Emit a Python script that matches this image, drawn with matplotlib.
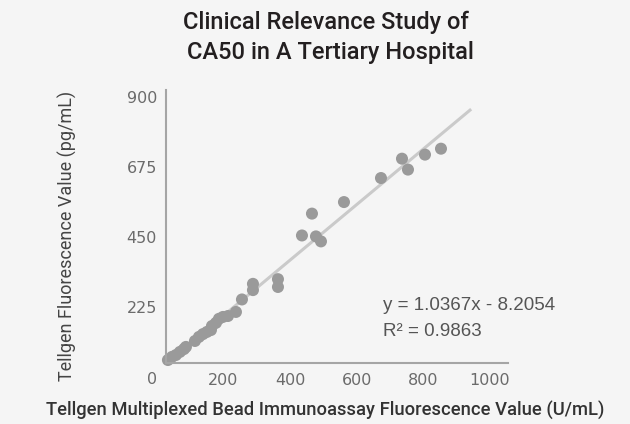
import numpy as np
import matplotlib.pyplot as plt

# values
x_vals = [34, 46, 58, 70, 82, 88, 115, 127, 139, 151, 163, 166, 178, 187, 199,
          214, 238, 256, 289, 289, 364, 364, 436, 466, 478, 493, 562, 673, 736,
          754, 805, 853]
y_vals = [56, 66, 72, 82, 91, 98, 117, 130, 139, 146, 152, 165, 175, 188, 194,
          197, 210, 250, 280, 300, 290, 315, 455, 525, 452, 436, 562, 639, 701,
          666, 714, 733]
x_ticks = [200, 400, 600, 800, 1000]
y_ticks = [0, 225, 450, 675, 900]
eq_text = 'y = 1.0367x - 8.2054'
r2_text = 'R\u00b2 = 0.9863'

bg = '#f5f5f5'
fig = plt.figure(figsize=(6.3, 4.24), dpi=100, facecolor=bg)
ax = fig.add_axes([156.6/630, 1-377.5/424, (508-156.6)/630, (377.5-90)/424],
                  facecolor=bg)
ax.patch.set_alpha(0)

x_lo, y_lo = 28, 46  # where the axis lines cross

# trendline from least squares of the plotted points
coef = np.polyfit(x_vals, y_vals, 1)
xl = np.array([min(x_vals), 940])
ax.plot(xl, np.polyval(coef, xl), color='#cacaca', lw=2.2, zorder=1)

ax.scatter(x_vals, y_vals, s=75, color='#9a9a9a', edgecolors='none', zorder=2)

ax.set_xlim(0, 1054)
ax.set_ylim(0, 921)
ax.set_xticks(x_ticks)
ax.set_yticks(y_ticks)
ax.tick_params(length=0, labelsize=11.5, labelcolor='#6b6b6b')
ax.tick_params(axis='x', pad=7)
ax.tick_params(axis='y', pad=6.5)
for lab in ax.get_xticklabels() + ax.get_yticklabels():
    lab.set_family('Liberation Sans')

for s in ['top', 'right']:
    ax.spines[s].set_visible(False)
ax.spines['left'].set_position(('data', x_lo))
ax.spines['left'].set_bounds(y_lo, 921)
ax.spines['bottom'].set_position(('data', y_lo))
ax.spines['bottom'].set_bounds(x_lo, 1054)
for s in ['left', 'bottom']:
    ax.spines[s].set_color('#a5a5a5')
    ax.spines[s].set_linewidth(1.5)

# regression text
fig.text(383/630, 1-305/424, eq_text, fontsize=13.5, color='#555555',
         family='Liberation Sans', va='center', ha='left')
fig.text(383/630, 1-331/424, r2_text, fontsize=13.5, color='#555555',
         family='Liberation Sans', va='center', ha='left')

# titles and axis labels
fig.text(326/630, 1-22/424, 'Clinical Relevance Study of', fontsize=17,
         family='Roboto', weight='medium', color='#231f20', ha='center', va='center')
fig.text(330/630, 1-52/424, 'CA50 in A Tertiary Hospital', fontsize=17,
         family='Roboto', weight='medium', color='#231f20', ha='center', va='center')
fig.text(325/630, 1-410/424,
         'Tellgen Multiplexed Bead Immunoassay Fluorescence Value (U/mL)',
         fontsize=13.2, family='Roboto', weight='medium', color='#333333',
         ha='center', va='center')
fig.text(67/630, 1-236/424, 'Tellgen Fluorescence Value (pg/mL)', fontsize=13,
         family='Roboto', color='#444444', rotation=90,
         ha='center', va='center')

fig.savefig('out.png', dpi=100, facecolor=bg)
